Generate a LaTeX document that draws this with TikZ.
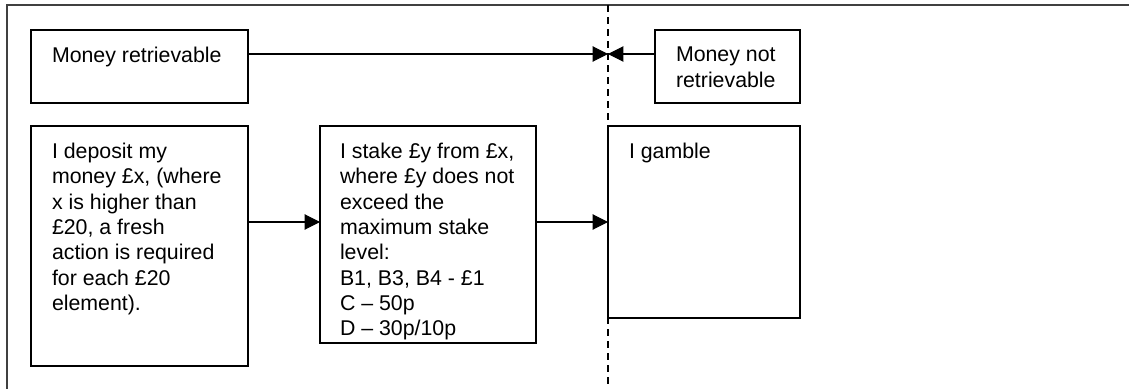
\documentclass[tikz,border=0pt]{standalone}
\usepackage{fontspec}
\setmainfont{Liberation Sans}
\usetikzlibrary{arrows.meta}
\begin{document}
\begin{tikzpicture}[x=0.75pt,y=-0.75pt,
  box/.style={draw=black,line width=1.4pt,fill=white,inner sep=0pt,outer sep=0pt,anchor=north west},
  txt/.style={inner sep=0pt,outer sep=0pt,anchor=north west,align=left,font=\fontsize{16}{19}\selectfont},
  arr/.style={line width=0.8pt,-{Triangle[length=11.5pt,width=11.5pt]}},
  frame/.style={draw=black!75,line width=0.8pt},
  divider/.style={line width=1.4pt,dash pattern=on 5.5pt off 3.5pt}]
\useasboundingbox (0,0) rectangle (1129,389);
\draw[frame] (7,389) -- (7,5) -- (1129,5);
\coordinate (dtop) at (608,5);
\coordinate (dbot) at (608,389);
\draw[divider] (dtop) -- (dbot);
\node[box,minimum width=162.75pt,minimum height=54.75pt] (mr) at (31,30) {};
\node[box,minimum width=108.75pt,minimum height=54.75pt] (mnr) at (655,30) {};
\node[box,minimum width=162.75pt,minimum height=180pt] (dep) at (31,126) {};
\node[box,minimum width=162pt,minimum height=162.75pt] (stake) at (320,126) {};
\node[box,minimum width=144pt,minimum height=144pt] (gamble) at (608,126) {};
\node[txt] (mrt) at ([shift={(21,17)}]mr.north west) {Money retrievable};
\node[txt] (mnrt) at ([shift={(21,17)}]mnr.north west) {Money not\\retrievable};
\node[txt] (dept) at ([shift={(21,17)}]dep.north west) {I deposit my\\money £x, (where\\x is higher than\\£20, a fresh\\action is required\\for each £20\\element).};
\node[txt] (staket) at ([shift={(20,17)}]stake.north west) {I stake £y from £x,\\where £y does not\\exceed the\\maximum stake\\level:\\B1, B3, B4 - £1\\C – 50p\\D – 30p/10p};
\node[txt] (gamblet) at ([shift={(21,17)}]gamble.north west) {I gamble};
\coordinate (meet) at (608,54);
\coordinate (row) at (0,222);
\draw[arr] (mr.east |- meet) -- (meet);
\draw[arr] (mnr.west |- meet) -- (meet);
\draw[arr] (dep.east |- row) -- (stake.west |- row);
\draw[arr] (stake.east |- row) -- (gamble.west |- row);
\end{tikzpicture}
\end{document}
